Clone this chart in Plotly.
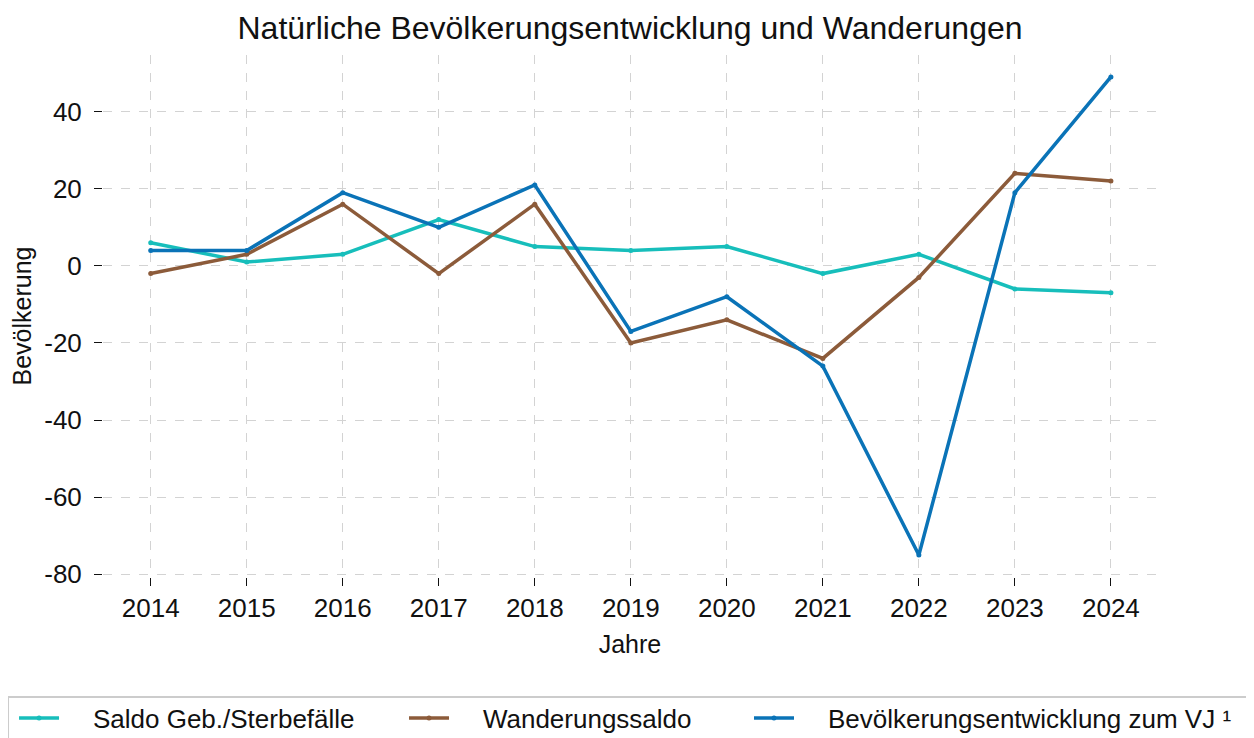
import plotly.graph_objects as go

# Daten
jahre = [2014, 2015, 2016, 2017, 2018, 2019, 2020, 2021, 2022, 2023, 2024]
saldo_geb_sterbe = [6, 1, 3, 12, 5, 4, 5, -2, 3, -6, -7]
wanderungssaldo = [-2, 3, 16, -2, 16, -20, -14, -24, -3, 24, 22]
bev_entwicklung = [4, 4, 19, 10, 21, -17, -8, -26, -75, 19, 49]

y_ticks = [-80, -60, -40, -20, 0, 20, 40]
y_ticktext = ["-80", "-60", "-40", "-20", "0", "20", "40"]

namen = ["Saldo Geb./Sterbefälle", "Wanderungssaldo", "Bevölkerungsentwicklung zum VJ ¹"]
farben = ["#17BEBB", "#8C5B3A", "#0A73B7"]

# jede Reihe bekommt eine eigene Legende, damit die Abstaende passen
legenden = ["legend", "legend2", "legend3"]
legenden_x = [-0.0844, 0.2856, 0.6129]

# Abstand zwischen Symbol und Text (geschuetzte Leerzeichen)
vor = "\u00a0" * 4

fig = go.Figure()

for name, werte, farbe, leg in zip(namen, [saldo_geb_sterbe, wanderungssaldo, bev_entwicklung], farben, legenden):
    fig.add_trace(
        go.Scatter(
            x=jahre,
            y=werte,
            name=vor + name,
            legend=leg,
            showlegend=True,
            mode="lines+markers",
            line=dict(color=farbe, width=3.5),
            marker=dict(size=5, color=farbe)
        )
    )

# =========================
# LAYOUT
# =========================

fig.update_layout(
    width=1254,
    height=738,
    showlegend=True,
    font=dict(family="Liberation Sans, Arial, sans-serif", size=26, color="#111111"),
    title=dict(
        text="Natürliche Bevölkerungsentwicklung und Wanderungen",
        x=622 / 1254,
        xanchor="center",
        y=1 - 20 / 738,
        yanchor="middle",
        font=dict(size=32)
    ),
    plot_bgcolor="white",
    paper_bgcolor="white",
    margin=dict(l=95, r=105, t=47, b=169, autoexpand=False),
    xaxis=dict(
        title=dict(text="Jahre", font=dict(size=25), standoff=13),
        tickvals=jahre,
        range=[2013.503, 2024.48],
        showgrid=True,
        gridcolor="#D3D3D3",
        griddash="dash",
        zeroline=False,
        showline=False,
        automargin=False,
        ticks="outside",
        ticklen=8,
        tickcolor="#111111",
        tickfont=dict(size=26)
    ),
    yaxis=dict(
        title=dict(text="Bevölkerung", font=dict(size=25), standoff=10),
        tickvals=y_ticks,
        ticktext=y_ticktext,
        range=[-80.7, 54.7],
        showgrid=True,
        gridcolor="#D3D3D3",
        griddash="dash",
        zeroline=False,
        showline=False,
        automargin=False,
        ticks="outside",
        ticklen=8,
        ticklabelstandoff=7,
        tickcolor="#111111",
        tickfont=dict(size=26)
    )
)

for leg, lx in zip(legenden, legenden_x):
    fig.update_layout({
        leg: dict(
            visible=True,
            orientation="h",
            x=lx,
            xanchor="left",
            y=-0.2252,
            yanchor="top",
            bgcolor="rgba(0,0,0,0)",
            borderwidth=0,
            itemwidth=40,
            font=dict(size=26)
        )
    })

# Rahmen um die Legende (unten offen, wie im Original abgeschnitten)
fig.add_shape(
    type="rect",
    xref="paper",
    yref="paper",
    x0=-0.0901,
    x1=1.2,
    y0=-0.2299,
    y1=-0.5,
    line=dict(color="#CCCCCC", width=2),
    fillcolor="rgba(0,0,0,0)",
    layer="below"
)

fig.write_html("out.html")
